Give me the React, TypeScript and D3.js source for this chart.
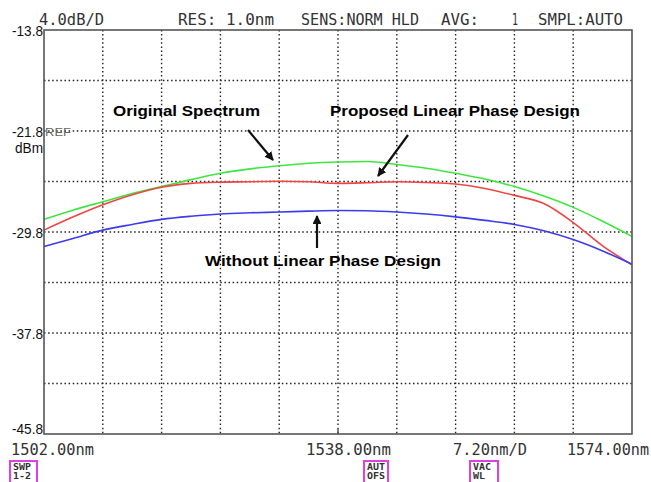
import * as d3 from 'd3';

// wavelength grid (nm) shared by the three traces
const wavelengths = [
  1502, 1505.6, 1509.2, 1512.8, 1516.4, 1520, 1523.6, 1527.2, 1530.8, 1534.4, 1538,
  1541.6, 1545.2, 1548.8, 1552.4, 1556, 1559.6, 1563.2, 1566.8, 1570.4, 1574,
];

// dBm values
const originalSpectrum = [
  -28.8, -28.05, -27.4, -26.75, -26.2, -25.65, -25.15, -24.8, -24.55, -24.35, -24.25,
  -24.22, -24.45, -24.75, -25.15, -25.6, -26.2, -26.95, -27.85, -28.95, -30.15,
];
const proposedDesign = [
  -29.65, -28.6, -27.65, -26.85, -26.25, -25.95, -25.85, -25.82, -25.78, -25.82, -25.95,
  -25.9, -25.82, -25.88, -26.0, -26.35, -26.9, -27.55, -29.05, -30.9, -32.4,
];
const withoutDesign = [
  -30.95, -30.3, -29.65, -29.2, -28.8, -28.55, -28.37, -28.28, -28.22, -28.15, -28.1,
  -28.12, -28.22, -28.38, -28.6, -28.88, -29.2, -29.7, -30.4, -31.3, -32.35,
];

const yLabels = ['-13.8', '-21.8', '-29.8', '-37.8', '-45.8'];
const headerItems = [
  { text: '4.0dB/D', x0: 39, x1: 104 },
  { text: 'RES: 1.0nm', x0: 178, x1: 274 },
  { text: 'SENS:NORM HLD', x0: 301, x1: 419 },
  { text: 'AVG:', x0: 441, x1: 479 },
  { text: '1', x0: 512, x1: 518 },
  { text: 'SMPL:AUTO', x0: 538, x1: 623 },
];
const footerItems = [
  { text: '1502.00nm', x0: 11, x1: 94 },
  { text: '1538.00nm', x0: 306, x1: 391 },
  { text: '7.20nm/D', x0: 453, x1: 527 },
  { text: '1574.00nm', x0: 567, x1: 649 },
];
const softKeys = [
  { lines: ['SWP', '1-2'], x: 10, w: 27 },
  { lines: ['AUT', 'OFS'], x: 364, w: 24 },
  { lines: ['VAC', 'WL'], x: 470, w: 28 },
];

const W = 651;
const H = 482;
const left = 44;
const right = 632;
const top = 30;
const bottom = 434;

const App = () => {
  const x = d3.scaleLinear().domain([1502, 1574]).range([left, right]);
  const y = d3.scaleLinear().domain([-45.8, -13.8]).range([bottom, top]);

  const line = d3.line<number>()
    .x((_, i) => x(wavelengths[i]))
    .y(d => y(d))
    .curve(d3.curveMonotoneX);

  const xGrid = d3.range(1, 10).map(i => 1502 + i * 7.2);
  const yGrid = d3.range(1, 8).map(i => -13.8 - i * 4);

  const mono = 'DejaVu Sans Mono, monospace';
  const narrow = 'Liberation Sans, Arial, sans-serif';

  return (
    <div style={{ position: 'absolute', left: 0, top: 0 }}>
      <svg width={W} height={H} style={{ display: 'block', background: '#fff' }}>
        <defs>
          <marker id="arrow" viewBox="0 0 10 10" refX="9" refY="5" markerWidth="4" markerHeight="4" orient="auto">
            <path d="M0,0 L10,5 L0,10 z" fill="#111" />
          </marker>
        </defs>

        {/* header */}
        {headerItems.map(h => (
          <text key={h.text} x={h.x0} y={25} fontFamily={mono} fontSize={15} fill="#333"
            textLength={h.x1 - h.x0} lengthAdjust="spacingAndGlyphs">{h.text}</text>
        ))}

        {/* grid */}
        {xGrid.map(g => (
          <line key={'vx' + g} x1={x(g)} x2={x(g)} y1={top} y2={bottom}
            stroke="#222" strokeWidth={1.4} strokeDasharray="1.5,2.6" />
        ))}
        {yGrid.map(g => (
          <line key={'hy' + g} x1={left} x2={right} y1={y(g)} y2={y(g)}
            stroke="#222" strokeWidth={1.4} strokeDasharray="1.5,2.6" />
        ))}

        {/* traces */}
        <path d={line(originalSpectrum) || ''} fill="none" stroke="#3fe63f" strokeWidth={1.6} />
        <path d={line(proposedDesign) || ''} fill="none" stroke="#f04444" strokeWidth={1.6} />
        <path d={line(withoutDesign) || ''} fill="none" stroke="#3c3cec" strokeWidth={1.6} />

        {/* frame */}
        <rect x={left} y={top} width={right - left} height={bottom - top} fill="none" stroke="#555" strokeWidth={1.6} />
        <line x1={x(1538)} x2={x(1538)} y1={bottom} y2={bottom - 5} stroke="#555" strokeWidth={1.4} />

        {/* y labels */}
        {yLabels.map((l, i) => {
          const gy = y(+l);
          const by = i === yLabels.length - 1 ? gy : gy + 6;
          return (
            <text key={l} x={12} y={by} fontFamily={narrow} fontSize={15} fill="#111"
              textLength={31} lengthAdjust="spacingAndGlyphs">{l}</text>
          );
        })}
        <text x={45} y={136} fontFamily={narrow} fontSize={10} fill="#666"
          textLength={26} lengthAdjust="spacingAndGlyphs">REF</text>
        <text x={15} y={153} fontFamily={narrow} fontSize={14} fill="#111"
          textLength={28} lengthAdjust="spacingAndGlyphs">dBm</text>

        {/* annotations */}
        <g fontFamily="Liberation Sans, Arial, sans-serif" fontWeight="bold" fontSize={15} fill="#000">
          <text x={113} y={116} textLength={147} lengthAdjust="spacingAndGlyphs">Original Spectrum</text>
          <text x={330} y={116} textLength={250} lengthAdjust="spacingAndGlyphs">Proposed Linear Phase Design</text>
          <text x={205} y={266} textLength={236} lengthAdjust="spacingAndGlyphs">Without Linear Phase Design</text>
        </g>
        <line x1={248} y1={130} x2={273} y2={160} stroke="#111" strokeWidth={2.2} markerEnd="url(#arrow)" />
        <line x1={408} y1={135} x2={378} y2={176} stroke="#111" strokeWidth={2.2} markerEnd="url(#arrow)" />
        <line x1={317} y1={248} x2={317} y2={216} stroke="#111" strokeWidth={2.2} markerEnd="url(#arrow)" />

        {/* footer */}
        {footerItems.map(f => (
          <text key={f.text} x={f.x0} y={455} fontFamily={mono} fontSize={15} fill="#333"
            textLength={f.x1 - f.x0} lengthAdjust="spacingAndGlyphs">{f.text}</text>
        ))}
        {softKeys.map(k => (
          <g key={k.lines.join('')}>
            <rect x={k.x} y={461} width={k.w} height={22} fill="#fff" stroke="#e040e0" strokeWidth={2} />
            {k.lines.map((t, j) => (
              <text key={t} x={k.x + 3} y={470 + j * 9} fontFamily={mono} fontWeight="bold" fontSize={9} fill="#333"
                textLength={t.length * 6} lengthAdjust="spacingAndGlyphs">{t}</text>
            ))}
          </g>
        ))}
      </svg>
    </div>
  );
};

export default App;
